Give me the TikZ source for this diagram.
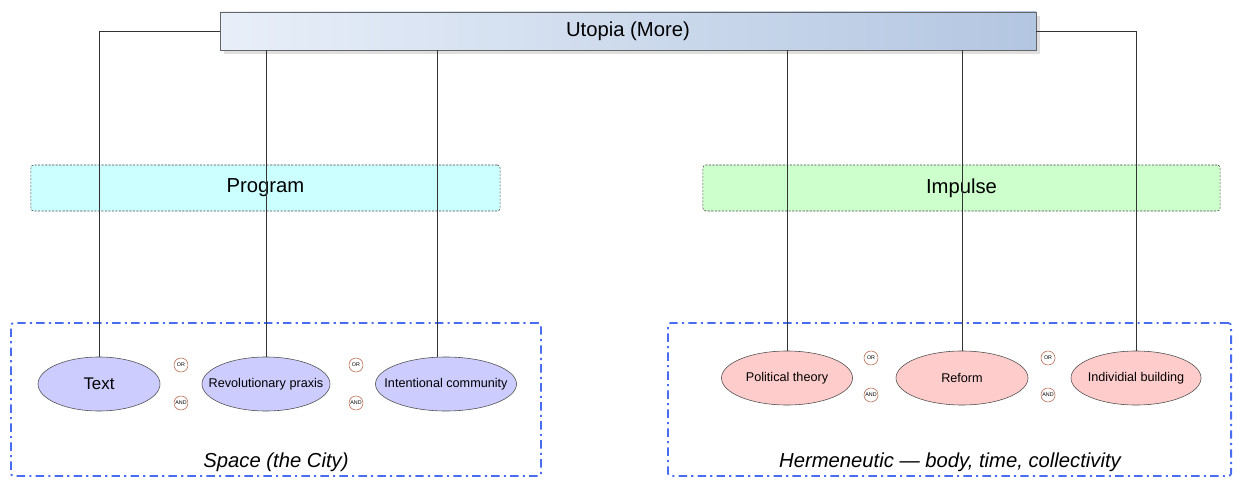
\documentclass[tikz,border=0pt]{standalone}
\usepackage{fontspec}
\setmainfont{Liberation Sans}
\usetikzlibrary{shadows,shapes.geometric}

\definecolor{headL}{HTML}{E8EFF9}
\definecolor{headR}{HTML}{B3C6E1}
\definecolor{progfill}{HTML}{CCFFFF}
\definecolor{impfill}{HTML}{CCFFCC}
\definecolor{bluefill}{HTML}{CCCCFF}
\definecolor{pinkfill}{HTML}{FFCCCC}
\definecolor{framecol}{HTML}{4A6CF0}
\definecolor{gatecol}{HTML}{B8664A}

% text that does not widen the ellipse round it
\newcommand{\etext}[1]{\makebox[0pt]{#1}}

\begin{document}
\begin{tikzpicture}[x=0.025cm,y=-0.025cm,thin,
    head node/.style={rectangle,draw=black!60,minimum width=20.4cm,minimum height=0.95cm,
                      left color=headL,right color=headR,drop shadow={opacity=0.25},font=\Large},
    group node/.style={rectangle,rounded corners=2pt,draw=black!70,dash pattern=on 1.5pt off 1pt,
                       minimum height=1.15cm,font=\Large},
    main node/.style={ellipse,draw=black!70,minimum height=1.35cm,inner sep=1pt,font=\small},
    gate/.style={circle,draw=gatecol,fill=white,inner sep=0pt,minimum size=0.35cm,
                 font=\fontsize{3.8}{4}\selectfont},
    area/.style={draw=framecol,line width=1.3pt,rounded corners=2pt,
                 dash pattern=on 6pt off 3pt on 1.5pt off 3pt,minimum height=3.825cm}]
\useasboundingbox (0,0) rectangle (1236,479);
%%%%%
\node[area,minimum width=13.25cm] (space) at (276,399.5) {};
\node[area,minimum width=14.075cm] (herm) at (949.5,399.5) {};
\node[font=\Large\itshape] at (276,462) {Space (the City)};
\node[font=\Large\itshape] at (950,462) {Hermeneutic --- body, time, collectivity};
%%%%%
\node[group node,fill=progfill,minimum width=11.725cm] (program) at (265.5,188) {Program};
\node[group node,fill=impfill,minimum width=12.925cm] (impulse) at (961.5,188) {Impulse};
%%%%%
\node[head node] (utopia) at (628,31) {Utopia (More)};
%%%%%
\node[main node,fill=bluefill,minimum width=3.05cm,font=\large] (text) at (99,384) {\etext{Text}};
\node[main node,fill=bluefill,minimum width=3.2cm] (praxis) at (266,384) {\etext{Revolutionary praxis}};
\node[main node,fill=bluefill,minimum width=3.525cm] (community) at (446,384) {\etext{Intentional community}};
\node[main node,fill=pinkfill,minimum width=3.275cm] (political) at (787,378) {\etext{Political theory}};
\node[main node,fill=pinkfill,minimum width=3.3cm] (reform) at (962,378) {\etext{Reform}};
\node[main node,fill=pinkfill,minimum width=3.25cm] (building) at (1136,378) {\etext{Individial building}};
%%%%%
\node[gate] (or1) at (181,365) {OR};
\node[gate] (and1) at (181,403) {AND};
\node[gate] (or2) at (356,365) {OR};
\node[gate] (and2) at (356,403) {AND};
\node[gate] (or3) at (871,358) {OR};
\node[gate] (and3) at (871,395) {AND};
\node[gate] (or4) at (1048,358) {OR};
\node[gate] (and4) at (1048,395) {AND};
%%%%%
\path[draw=black!80]
  (utopia.west) -| (text.north)
  (utopia.east) -| (building.north)
  (utopia.south -| praxis.north) -- (praxis.north)
  (utopia.south -| community.108) -- (community.108)
  (utopia.south -| political.north) -- (political.north)
  (utopia.south -| reform.north) -- (reform.north);
\end{tikzpicture}
\end{document}
